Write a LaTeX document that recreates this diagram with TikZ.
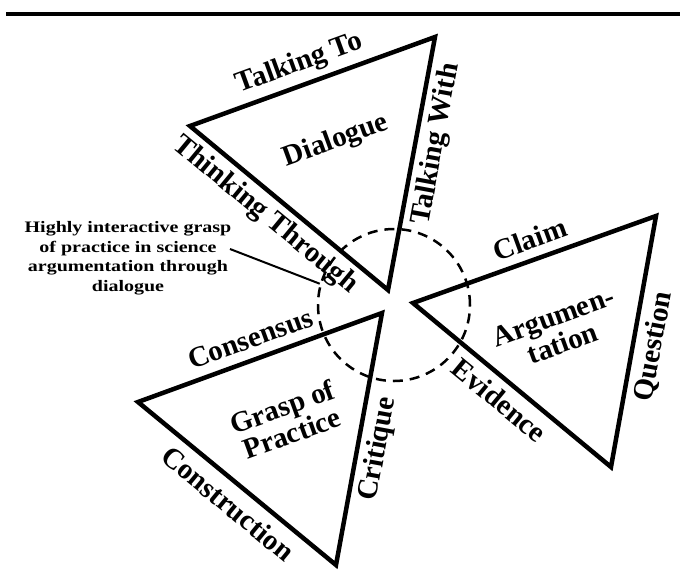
\documentclass[tikz,border=0pt]{standalone}
\usepackage{fontspec}
\setmainfont{Liberation Serif}
\usepackage{graphicx}
\usetikzlibrary{calc}
\begin{document}
\begin{tikzpicture}[x=1pt,y=-1pt,
  tri/.style={line width=4.5pt, line join=miter},
  rule/.style={line width=3.2pt},
  lab/.style={font=\fontsize{29}{28}\selectfont\bfseries, inner sep=0pt, align=center},
  ringstyle/.style={circle, draw, line width=2.5pt, dash pattern=on 10pt off 7pt, minimum size=152pt, inner sep=0pt},
  pointer/.style={line width=2pt},
  calloutstyle/.style={inner sep=0pt, font=\fontsize{16}{19.7}\selectfont\bfseries}]
\useasboundingbox (0,0) rectangle (680,582);
% top rule
\coordinate (r1) at (6,14); \coordinate (r2) at (680,14);
\draw[rule] (r1) -- (r2);
% triangle vertices
\coordinate (dL) at (190,126); \coordinate (dT) at (435,37);  \coordinate (dB) at (388,290);
\coordinate (aL) at (413,303); \coordinate (aT) at (656,216); \coordinate (aB) at (611,467);
\coordinate (gL) at (138,402); \coordinate (gT) at (382,313); \coordinate (gB) at (336,565);
% dashed ring
\node[ringstyle] (circ) at (394,305) {};
% triangles
\draw[tri] (dL) -- (dT) -- (dB) -- cycle;
\draw[tri] (aL) -- (aT) -- (aB) -- cycle;
\draw[tri] (gL) -- (gT) -- (gB) -- cycle;
% Dialogue labels
\node[lab, rotate=20]   (dtop)   at ($(dL)!0.477!(dT)+(-7.17,-19.74)$) {Talking To};
\node[lab, rotate=-39.6](dleft)  at ($(dL)!0.446!(dB)+(-13.4,16.17)$) {Thinking Through};
\node[lab, rotate=79.5] (dright) at ($(dB)!0.592!(dT)+(20.65,3.83)$) {Talking With};
\node[lab, rotate=20]   (dmid)   at (336,141) {Dialogue};
% Argumentation labels
\node[lab, rotate=20]   (atop)   at ($(aL)!0.51!(aT)+(-7.17,-19.74)$) {Claim};
\node[lab, rotate=-39.6](aleft)  at ($(aL)!0.5!(aB)+(-12.5,15.1)$) {Evidence};
\node[lab, rotate=79.5] (aright) at ($(aB)!0.495!(aT)+(20.65,3.83)$) {Question};
\node[lab, rotate=20]   (amid)   at (558,330) {Argumen-\\tation};
% Grasp labels
\node[lab, rotate=20]   (gtop)   at ($(gL)!0.49!(gT)+(-7.17,-19.74)$) {Consensus};
\node[lab, rotate=-39.6](gleft)  at ($(gL)!0.523!(gB)+(-13.4,16.17)$) {Construction};
\node[lab, rotate=79.5] (gright) at ($(gB)!0.476!(gT)+(20.65,3.83)$) {Critique};
\node[lab, rotate=20]   (gmid)   at (287,420) {Grasp of\\Practice};
% callout
\node[calloutstyle] (note) at (128,258) {\scalebox{1.25}[1]{\begin{tabular}{@{}c@{}}Highly interactive grasp\\of practice in science\\argumentation through\\dialogue\end{tabular}}};
\coordinate (ptr) at (230,249);
\draw[pointer] (ptr) -- (circ.164);
\end{tikzpicture}
\end{document}
